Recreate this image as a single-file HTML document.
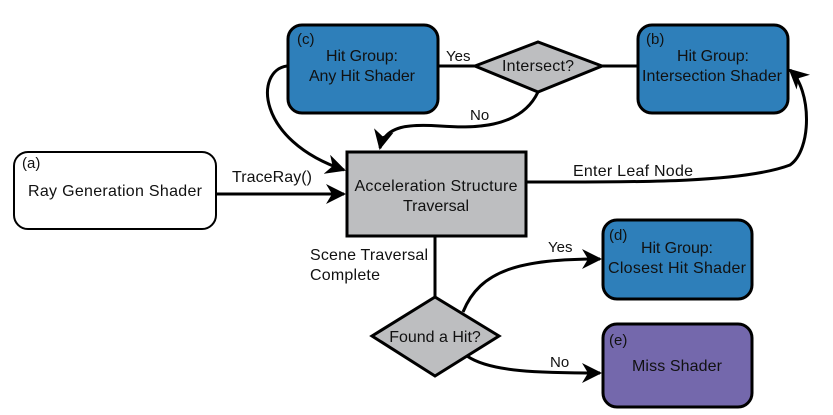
<!DOCTYPE html>
<html><head><style>
html,body{margin:0;padding:0;background:#fff;}
svg{display:block;}
text{font-family:"Liberation Sans",Arial,sans-serif;font-size:16px;fill:#111;}
</style></head><body>
<svg width="833" height="415" viewBox="0 0 833 415" xmlns="http://www.w3.org/2000/svg">
<defs>
<marker id="ar" viewBox="0 0 20 20" refX="18" refY="10" markerWidth="20" markerHeight="20" markerUnits="userSpaceOnUse" orient="auto">
<path d="M0,0 L20,10 L0,20 L6,10 Z" fill="#000"/>
</marker>
</defs>
<g fill="none" stroke="#000" stroke-width="3">
<path d="M216,194 L344,194" marker-end="url(#ar)"/>
<path d="M287,66 C255,70 255,140 344,170" marker-end="url(#ar)"/>
<path d="M538,92 C520,130 470,128 440,126 C410,124 385,125 380,148" marker-end="url(#ar)"/>
<path d="M437,66 L475,66 M600,66 L638,66"/>
<path d="M526,182 C620,182 740,184 790,165 C812,150 812,90 790,70" marker-end="url(#ar)"/>
<path d="M435,236 L435,297"/>
<path d="M463,312 C480,270 520,259 600,259" marker-end="url(#ar)"/>
<path d="M467,356 C490,372 540,373 600,373" marker-end="url(#ar)"/>
</g>
<rect x="288" y="25" width="150" height="88" rx="14" fill="#2e7fba" stroke="#000" stroke-width="3"/>
<rect x="638" y="25" width="150" height="88" rx="14" fill="#2e7fba" stroke="#000" stroke-width="3"/>
<rect x="603" y="220" width="149" height="79" rx="14" fill="#2e7fba" stroke="#000" stroke-width="3"/>
<rect x="603" y="324" width="149" height="83" rx="14" fill="#7468ac" stroke="#000" stroke-width="3"/>
<rect x="14" y="152" width="202" height="77" rx="14" fill="#fff" stroke="#000" stroke-width="2"/>
<rect x="347" y="152" width="179" height="84" fill="#bdbec0" stroke="#000" stroke-width="3"/>
<polygon points="475,66 538,42 602,66 538,92" fill="#bdbec0" stroke="#000" stroke-width="3"/>
<polygon points="372,336 435,297 499,336 435,376" fill="#bdbec0" stroke="#000" stroke-width="3"/>
<text x="297" y="44" style="font-size:15px">(c)</text>
<text x="362" y="61" text-anchor="middle" textLength="72">Hit Group:</text>
<text x="362" y="81" text-anchor="middle" textLength="106">Any Hit Shader</text>
<text x="646" y="44" style="font-size:15px">(b)</text>
<text x="713" y="61" text-anchor="middle" textLength="72">Hit Group:</text>
<text x="712" y="81" text-anchor="middle" textLength="140">Intersection Shader</text>
<text x="538" y="71" text-anchor="middle" textLength="72">Intersect?</text>
<text x="446" y="61" style="font-size:15px">Yes</text>
<text x="470" y="120" style="font-size:15px">No</text>
<text x="22" y="168" style="font-size:15px">(a)</text>
<text x="115" y="196" text-anchor="middle" textLength="174">Ray Generation Shader</text>
<text x="232" y="182" textLength="80">TraceRay()</text>
<text x="436" y="191" text-anchor="middle" textLength="163">Acceleration Structure</text>
<text x="436" y="211" text-anchor="middle" textLength="66">Traversal</text>
<text x="573" y="176" textLength="120">Enter Leaf Node</text>
<text x="310" y="260" textLength="118">Scene Traversal</text>
<text x="310" y="280" textLength="70">Complete</text>
<text x="435" y="342" text-anchor="middle">Found a Hit?</text>
<text x="548" y="252" style="font-size:15px">Yes</text>
<text x="550" y="367" style="font-size:15px">No</text>
<text x="609" y="240" style="font-size:15px">(d)</text>
<text x="677" y="253" text-anchor="middle" textLength="72">Hit Group:</text>
<text x="677" y="273" text-anchor="middle" textLength="138">Closest Hit Shader</text>
<text x="609" y="345" style="font-size:15px">(e)</text>
<text x="677" y="371" text-anchor="middle" textLength="90">Miss Shader</text>
</svg>
</body></html>
